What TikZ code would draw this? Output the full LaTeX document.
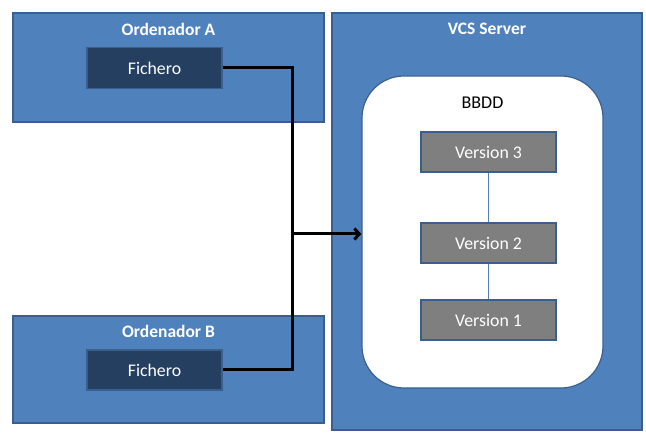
\documentclass[tikz,border=0pt]{standalone}
\usepackage{fontspec}
\setmainfont{Carlito}
\usetikzlibrary{arrows.meta}
\definecolor{azul}{HTML}{4F81BD}
\definecolor{azulborde}{HTML}{3A5F8E}
\definecolor{oscuro}{HTML}{243F60}
\definecolor{gris}{HTML}{7F7F7F}
\tikzset{
  caja/.style={draw=azulborde, fill=azul, line width=1.2pt, inner sep=0pt},
  titulo/.style={text=white, font=\fontsize{17.5}{20}\selectfont\bfseries},
  fichero/.style={draw=azulborde, fill=oscuro, line width=1.4pt, text=white,
    minimum width=135pt, minimum height=41pt, inner sep=0pt,
    font=\fontsize{17.8}{20}\selectfont},
  version/.style={draw=azulborde, fill=gris, line width=1.7pt, text=white,
    minimum width=135pt, minimum height=40pt, inner sep=0pt,
    font=\fontsize{17.8}{20}\selectfont},
  conector/.style={line width=3pt, black},
  enlace/.style={line width=0.8pt, azul}
}
\begin{document}
\begin{tikzpicture}[x=1pt,y=-1pt]
\useasboundingbox (0,0) rectangle (646,435);

% ordenadores
\draw (168.5,67.5) node (ordA) [caja, minimum width=311pt, minimum height=109pt] {};
\draw (168.5,29) node (titA) [titulo] {Ordenador A};
\draw (154.5,68) node (fichA) [fichero] {Fichero};

\draw (168.5,369.5) node (ordB) [caja, minimum width=311pt, minimum height=107pt] {};
\draw (168.5,331) node (titB) [titulo] {Ordenador B};
\draw (154.5,370) node (fichB) [fichero, minimum height=40pt] {Fichero};

% servidor
\draw (487,221.5) node (server) [caja, minimum width=310pt, minimum height=417pt] {};
\draw (487,29) node (titS) [titulo] {VCS Server};
\draw (482.5,232) node (bbdd) [draw=azulborde, fill=white, line width=1.2pt, rounded corners=42pt,
  minimum width=241pt, minimum height=312pt] {};
\draw (482.5,103) node (titD) [font=\fontsize{18}{20}\selectfont] {BBDD};

\draw (488.5,152) node (v3) [version] {Version 3};
\draw (488.5,243) node (v2) [version] {Version 2};
\draw (488.5,320) node (v1) [version] {Version 1};
\draw[enlace] (v3) -- (v2);
\draw[enlace] (v2) -- (v1);

% conexiones
\coordinate (junta) at (292,234);
\draw[conector] (fichA.east) -| (junta);
\draw[conector] (fichB.east) -| (junta);
\draw[conector, -{Straight Barb[length=5pt,width=11pt]}] (junta) -- (junta -| bbdd.west);
\end{tikzpicture}
\end{document}
